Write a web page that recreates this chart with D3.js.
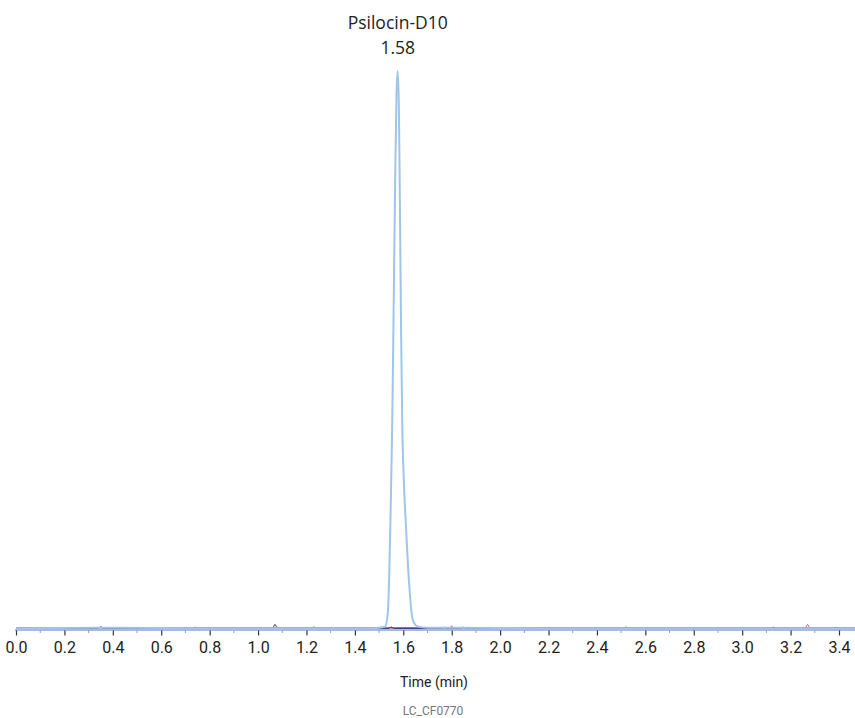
<!DOCTYPE html>
<html>
<head>
<meta charset="utf-8">
<script src="https://cdn.jsdelivr.net/npm/d3@7"></script>
<style>
  body { margin: 0; background: #fff; }
  svg { display: block; }
</style>
</head>
<body>
<svg id="chart" width="855" height="718"></svg>
<script>
// peak trace (Psilocin-D10), time in min, intensity in % of apex
const peakTimes = [0.00, 0.40, 0.80, 1.20, 1.45, 1.50, 1.525, 1.536, 1.542, 1.548, 1.554, 1.560, 1.566, 1.572, 1.577, 1.582, 1.586, 1.591, 1.596, 1.602, 1.608, 1.614, 1.620, 1.628, 1.636, 1.645, 1.660, 1.700, 1.800, 2.20, 2.80, 3.47];
const peakValues = [0.3, 0.4, 0.3, 0.3, 0.3, 0.4, 0.6, 3, 10, 22, 36, 57, 79, 96, 100, 93, 76, 53, 36, 27, 21, 16, 11, 6, 2.5, 1.2, 0.6, 0.4, 0.4, 0.3, 0.3, 0.3];

// baseline traces with small blips
const navyTimes = [0.00, 0.16, 0.17, 0.18, 0.34, 0.35, 0.36, 0.69, 0.70, 0.71, 1.06, 1.07, 1.08, 1.54, 1.55, 1.56, 1.76, 1.77, 1.78, 1.84, 1.85, 1.86, 2.04, 2.05, 2.06, 3.12, 3.13, 3.14, 3.38, 3.39, 3.40, 3.47];
const navyValues = [0.3, 0.3, 0.45, 0.3, 0.3, 0.6, 0.3, 0.3, 0.45, 0.3, 0.3, 1.0, 0.3, 0.3, 0.55, 0.3, 0.3, 0.5, 0.3, 0.3, 0.5, 0.3, 0.3, 0.45, 0.3, 0.3, 0.5, 0.3, 0.3, 0.45, 0.3, 0.3];
const redTimes = [0.00, 0.73, 0.74, 0.75, 1.22, 1.23, 1.24, 1.79, 1.80, 1.81, 2.51, 2.52, 2.53, 3.26, 3.27, 3.28, 3.47];
const redValues = [0.35, 0.35, 0.5, 0.35, 0.35, 0.55, 0.35, 0.35, 0.7, 0.35, 0.35, 0.55, 0.35, 0.35, 0.95, 0.35, 0.35];
const purpleTimes = [0.00, 3.47];
const purpleValues = [0.4, 0.4];

const majorTicks = [0.0, 0.2, 0.4, 0.6, 0.8, 1.0, 1.2, 1.4, 1.6, 1.8, 2.0, 2.2, 2.4, 2.6, 2.8, 3.0, 3.2, 3.4];
const minorTicks = [0.1, 0.3, 0.5, 0.7, 0.9, 1.1, 1.3, 1.5, 1.7, 1.9, 2.1, 2.3, 2.5, 2.7, 2.9, 3.1, 3.3];

const peakName = "Psilocin-D10";
const peakRt = "1.58";
const xTitle = "Time (min)";
const footer = "LC_CF0770";

const svg = d3.select("#chart");

const x = d3.scaleLinear().domain([0, 3.4]).range([16, 839]);
const y = d3.scaleLinear().domain([0, 100]).range([630, 71]);

const line = d3.line()
  .x((d) => x(d[0]))
  .y((d) => y(d[1]))
  .curve(d3.curveMonotoneX);

function drawTrace(times, values, color, width) {
  svg.append("path")
    .datum(d3.zip(times, values))
    .attr("fill", "none")
    .attr("stroke", color)
    .attr("stroke-width", width)
    .attr("stroke-linejoin", "round")
    .attr("d", line);
}

// axis line
svg.append("line")
  .attr("x1", 15).attr("x2", 855)
  .attr("y1", y(0)).attr("y2", y(0))
  .attr("stroke", "#8ea2d8")
  .attr("stroke-width", 1.5);

drawTrace(purpleTimes, purpleValues, "#b07fa6", 1.2);
drawTrace(redTimes, redValues, "#e0405a", 1);
drawTrace(navyTimes, navyValues, "#2c2f88", 1);
drawTrace(peakTimes, peakValues, "#9fc5ea", 2);

// ticks
const xAxis = d3.axisBottom(x)
  .tickValues(majorTicks)
  .tickSize(5)
  .tickPadding(6)
  .tickFormat(d3.format(".1f"));

const axisG = svg.append("g")
  .attr("transform", `translate(0, ${y(0) + 0.5})`)
  .call(xAxis);
axisG.select(".domain").remove();
axisG.selectAll(".tick line").attr("stroke", "#333").attr("stroke-width", 1.2);
axisG.selectAll(".tick text")
  .attr("fill", "#222")
  .style("font-family", "Roboto, sans-serif")
  .style("font-size", "16px");

svg.append("g")
  .selectAll("line")
  .data(minorTicks)
  .join("line")
  .attr("x1", (d) => x(d)).attr("x2", (d) => x(d))
  .attr("y1", y(0) + 0.5).attr("y2", y(0) + 3)
  .attr("stroke", "#999")
  .attr("stroke-width", 1);

// peak label
const label = svg.append("text")
  .attr("text-anchor", "middle")
  .attr("fill", "#222")
  .style("font-family", "'Open Sans', sans-serif")
  .style("font-size", "17.5px");
label.append("tspan").attr("x", x(1.577)).attr("y", 29).text(peakName);
label.append("tspan").attr("x", x(1.577)).attr("y", 54).text(peakRt);

svg.append("text")
  .attr("x", 434)
  .attr("y", 687)
  .attr("text-anchor", "middle")
  .attr("fill", "#222")
  .style("font-family", "Roboto, sans-serif")
  .style("font-size", "14px")
  .text(xTitle);

svg.append("text")
  .attr("x", 433)
  .attr("y", 715)
  .attr("text-anchor", "middle")
  .attr("fill", "#777")
  .style("font-family", "Roboto, sans-serif")
  .style("font-size", "12px")
  .text(footer);
</script>
</body>
</html>
